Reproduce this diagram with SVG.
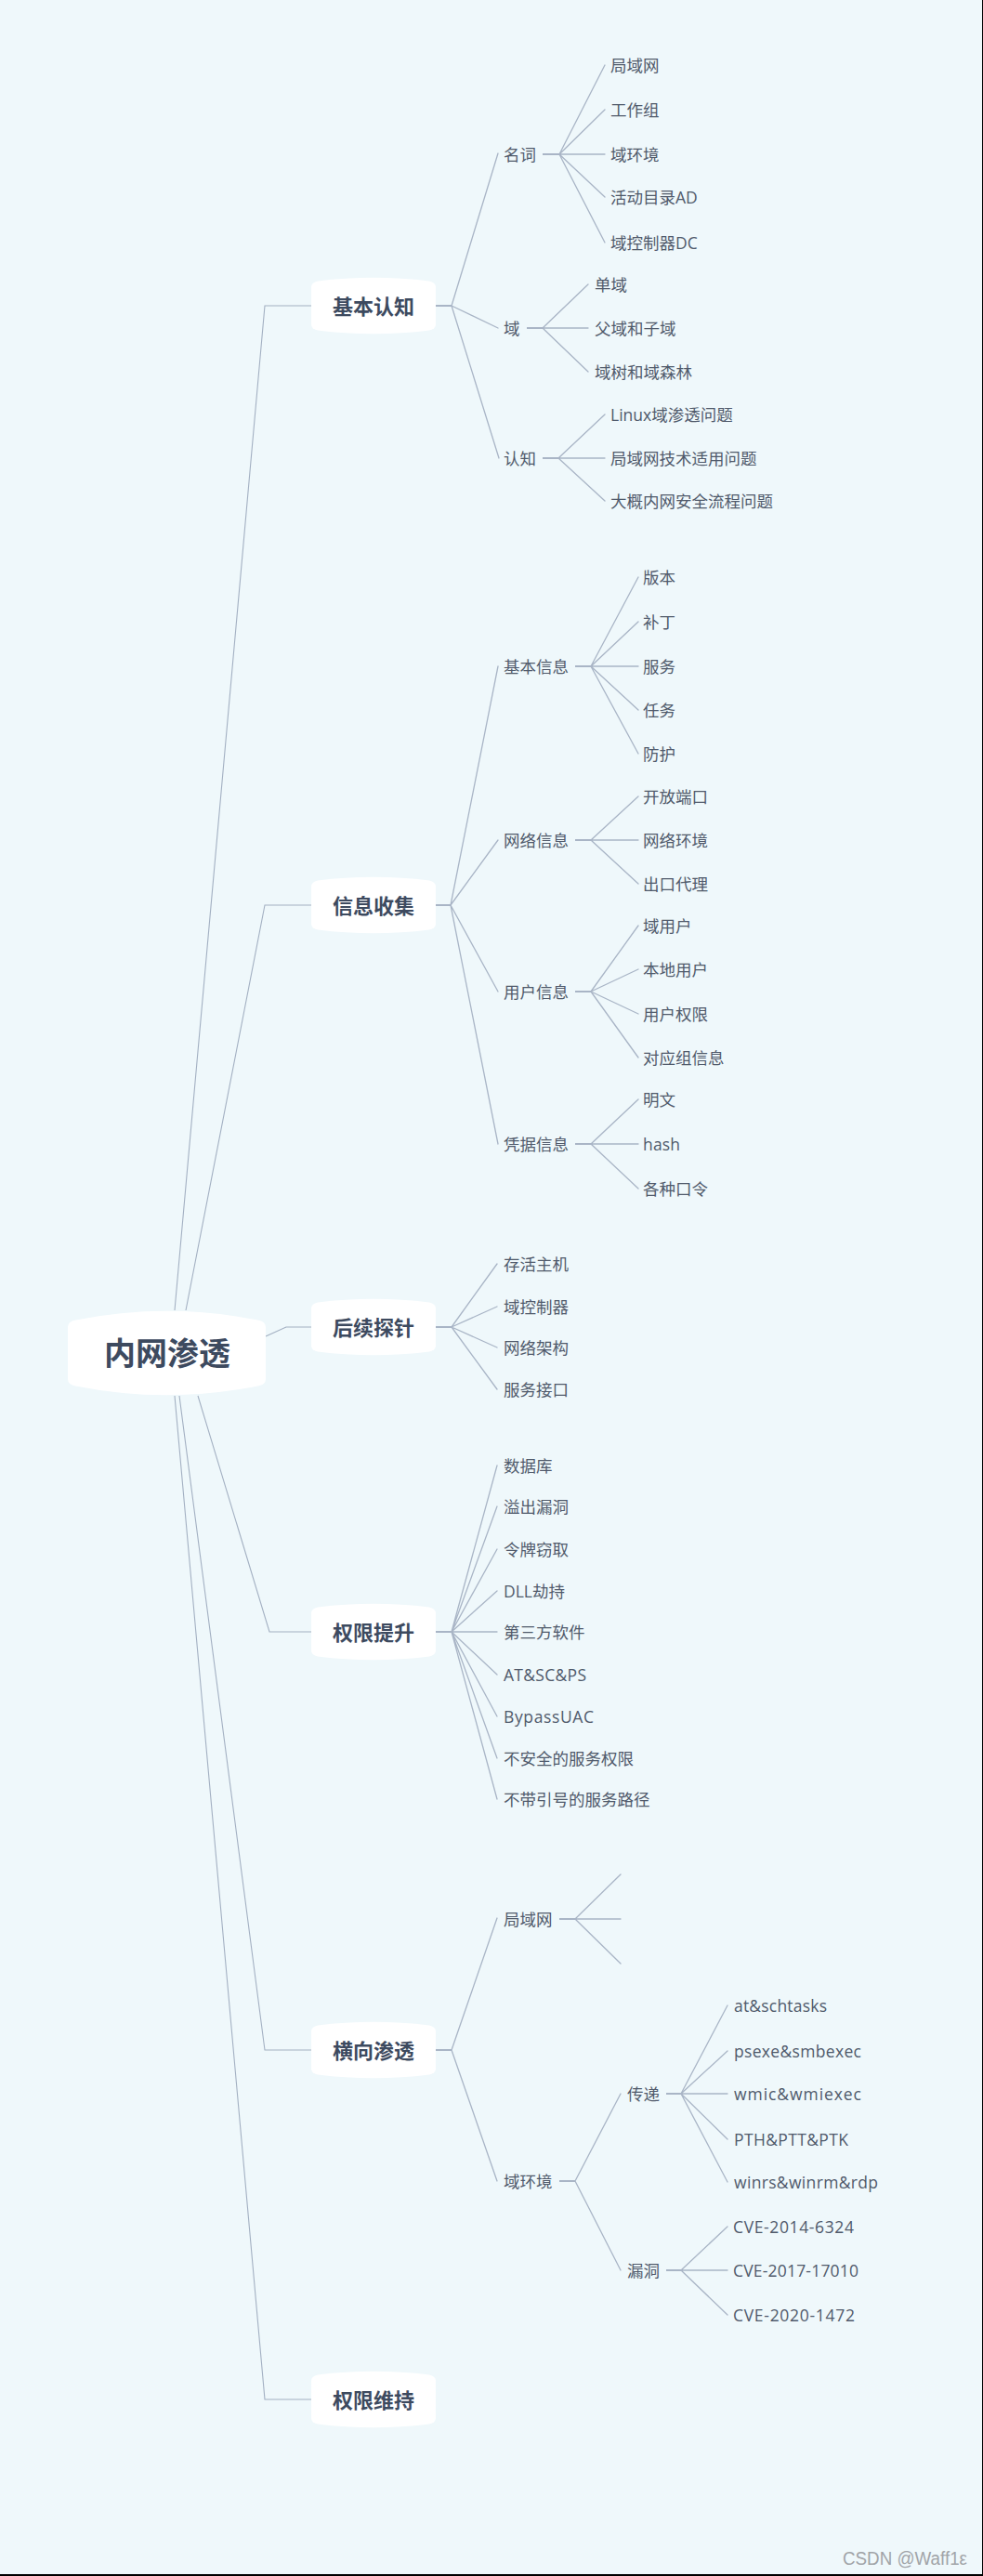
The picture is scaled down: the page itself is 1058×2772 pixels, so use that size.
<svg xmlns="http://www.w3.org/2000/svg" xmlns:xlink="http://www.w3.org/1999/xlink" width="1058" height="2772" viewBox="0 0 1058 2772">
<style>
text{font-family:"Open Sans","Noto Sans CJK SC",sans-serif;dominant-baseline:central}
.bg{fill:#eff8fb}
.ln{fill:none;stroke:#a9b5c6;stroke-width:1.3;stroke-linecap:round}
.stub{fill:none;stroke:#a9b5c6;stroke-width:2}
.rl{fill:none;stroke:#a3b0c2;stroke-width:1.1}
.node{fill:#ffffff}
.t-root{font-size:34px;font-weight:bold;fill:#3d4a5f;text-anchor:middle}
.t-main{font-size:22px;font-weight:bold;fill:#3d4a5f;text-anchor:middle}
.t-sub{font-size:17.5px;fill:#505a6b}
.wm{font-family:"Liberation Sans",sans-serif;font-size:20px;fill:#a1a4a8;dominant-baseline:auto}
</style>
<defs>
<path id="topicShape" d="M-67 -20 Q-67 -25 -60 -26.5 Q0 -34 60 -26.5 Q67 -25 67 -20 L67 20 Q67 25 60 26.5 Q0 34 -60 26.5 Q-67 25 -67 20 Z"/>
<path id="rootShape" d="M-106.5 -28 Q-106.5 -34 -98 -35.5 Q0 -55 98 -35.5 Q106.5 -34 106.5 -28 L106.5 28 Q106.5 34 98 35.5 Q0 55 -98 35.5 Q-106.5 34 -106.5 28 Z"/>
</defs>
<rect class="bg" x="0" y="0" width="1058" height="2772"/>

<g id="connectors">
  <path class="rl" d="M188 1410 L285 329 L335 329"/>
  <path class="rl" d="M200 1410 L285 974 L335 974"/>
  <path class="rl" d="M286 1438 L308 1428 L335 1428"/>
  <path class="rl" d="M213 1502 L290 1756 L335 1756"/>
  <path class="rl" d="M193 1502 L285 2206 L335 2206"/>
  <path class="rl" d="M188 1502 L285 2582 L335 2582"/>

  <path class="stub" d="M469 329 H486"/>
  <path class="ln" d="M486 329 L536 165 M486 329 L536 353 M486 329 L537 493"/>
  <path class="stub" d="M584 166 H602"/>
  <path class="ln" d="M602 166 L651 70 M602 166 L651 118 M602 166 L651 166 M602 166 L651 212 M602 166 L651 261"/>
  <path class="stub" d="M567 353 H584"/>
  <path class="ln" d="M584 353 L633 306 M584 353 L633 353 M584 353 L633 400"/>
  <path class="stub" d="M584 493 H601"/>
  <path class="ln" d="M601 493 L651 446 M601 493 L651 493 M601 493 L651 539"/>

  <path class="stub" d="M469 974 H485"/>
  <path class="ln" d="M485 974 L536 717 M485 974 L536 904 M485 974 L536 1067 M485 974 L536 1231"/>
  <path class="stub" d="M619 717 H636"/>
  <path class="ln" d="M636 717 L687 621 M636 717 L687 669 M636 717 L687 717 M636 717 L687 764 M636 717 L687 811"/>
  <path class="stub" d="M619 904 H636"/>
  <path class="ln" d="M636 904 L687 857 M636 904 L687 904 M636 904 L687 951"/>
  <path class="stub" d="M619 1067 H636"/>
  <path class="ln" d="M636 1067 L687 996 M636 1067 L687 1043 M636 1067 L687 1091 M636 1067 L687 1138"/>
  <path class="stub" d="M619 1231 H636"/>
  <path class="ln" d="M636 1231 L687 1183 M636 1231 L687 1231 M636 1231 L687 1279"/>

  <path class="stub" d="M469 1428 H486"/>
  <path class="ln" d="M486 1428 L535 1360 M486 1428 L535 1406 M486 1428 L535 1450 M486 1428 L535 1495"/>

  <path class="stub" d="M469 1756 H486"/>
  <path class="ln" d="M486 1756 L535 1577 M486 1756 L535 1621 M486 1756 L535 1667 M486 1756 L535 1712 M486 1756 L535 1756 M486 1756 L535 1802 M486 1756 L535 1847 M486 1756 L535 1892 M486 1756 L535 1936"/>

  <path class="stub" d="M469 2206 H486"/>
  <path class="ln" d="M486 2206 L535 2064 M486 2206 L535 2347"/>
  <path class="stub" d="M602 2065 H619"/>
  <path class="ln" d="M619 2065 L668 2017 M619 2065 L668 2065 M619 2065 L668 2113"/>
  <path class="stub" d="M602 2347 H619"/>
  <path class="ln" d="M619 2347 L668 2253 M619 2347 L668 2443"/>
  <path class="stub" d="M717 2253 H733"/>
  <path class="ln" d="M733 2253 L783 2158 M733 2253 L783 2207 M733 2253 L783 2253 M733 2253 L783 2302 M733 2253 L783 2348"/>
  <path class="stub" d="M717 2443 H733"/>
  <path class="ln" d="M733 2443 L783 2396 M733 2443 L783 2443 M733 2443 L783 2491"/>
</g>

<g id="root">
  <use xlink:href="#rootShape" href="#rootShape" class="node" transform="translate(179.5 1456)"/>
  <text class="t-root" x="180" y="1456">内网渗透</text>
</g>

<g id="topic-jbrz">
  <use xlink:href="#topicShape" href="#topicShape" class="node" transform="translate(402 329)"/>
  <text class="t-main" x="402" y="329">基本认知</text>
</g>
<g id="topic-xxsj">
  <use xlink:href="#topicShape" href="#topicShape" class="node" transform="translate(402 974)"/>
  <text class="t-main" x="402" y="974">信息收集</text>
</g>
<g id="topic-hxtz">
  <use xlink:href="#topicShape" href="#topicShape" class="node" transform="translate(402 1428)"/>
  <text class="t-main" x="402" y="1428">后续探针</text>
</g>
<g id="topic-qxts">
  <use xlink:href="#topicShape" href="#topicShape" class="node" transform="translate(402 1756)"/>
  <text class="t-main" x="402" y="1756">权限提升</text>
</g>
<g id="topic-hxst">
  <use xlink:href="#topicShape" href="#topicShape" class="node" transform="translate(402 2206)"/>
  <text class="t-main" x="402" y="2206">横向渗透</text>
</g>
<g id="topic-qxwc">
  <use xlink:href="#topicShape" href="#topicShape" class="node" transform="translate(402 2582)"/>
  <text class="t-main" x="402" y="2582">权限维持</text>
</g>

<g id="n-mingci"><text class="t-sub" x="542" y="166">名词</text></g>
<g id="n-mc-1"><text class="t-sub" x="657" y="70">局域网</text></g>
<g id="n-mc-2"><text class="t-sub" x="657" y="118">工作组</text></g>
<g id="n-mc-3"><text class="t-sub" x="657" y="166">域环境</text></g>
<g id="n-mc-4"><text class="t-sub" x="657" y="212">活动目录AD</text></g>
<g id="n-mc-5"><text class="t-sub" x="657" y="261">域控制器DC</text></g>
<g id="n-yu"><text class="t-sub" x="542" y="353">域</text></g>
<g id="n-yu-1"><text class="t-sub" x="640" y="306">单域</text></g>
<g id="n-yu-2"><text class="t-sub" x="640" y="353">父域和子域</text></g>
<g id="n-yu-3"><text class="t-sub" x="640" y="400">域树和域森林</text></g>
<g id="n-renzhi"><text class="t-sub" x="542" y="493">认知</text></g>
<g id="n-rz-1"><text class="t-sub" x="657" y="446">Linux域渗透问题</text></g>
<g id="n-rz-2"><text class="t-sub" x="657" y="493">局域网技术适用问题</text></g>
<g id="n-rz-3"><text class="t-sub" x="657" y="539">大概内网安全流程问题</text></g>

<g id="n-jbxx"><text class="t-sub" x="542" y="717">基本信息</text></g>
<g id="n-jb-1"><text class="t-sub" x="692" y="621">版本</text></g>
<g id="n-jb-2"><text class="t-sub" x="692" y="669">补丁</text></g>
<g id="n-jb-3"><text class="t-sub" x="692" y="717">服务</text></g>
<g id="n-jb-4"><text class="t-sub" x="692" y="764">任务</text></g>
<g id="n-jb-5"><text class="t-sub" x="692" y="811">防护</text></g>
<g id="n-wlxx"><text class="t-sub" x="542" y="904">网络信息</text></g>
<g id="n-wl-1"><text class="t-sub" x="692" y="857">开放端口</text></g>
<g id="n-wl-2"><text class="t-sub" x="692" y="904">网络环境</text></g>
<g id="n-wl-3"><text class="t-sub" x="692" y="951">出口代理</text></g>
<g id="n-yhxx"><text class="t-sub" x="542" y="1067">用户信息</text></g>
<g id="n-yh-1"><text class="t-sub" x="692" y="996">域用户</text></g>
<g id="n-yh-2"><text class="t-sub" x="692" y="1043">本地用户</text></g>
<g id="n-yh-3"><text class="t-sub" x="692" y="1091">用户权限</text></g>
<g id="n-yh-4"><text class="t-sub" x="692" y="1138">对应组信息</text></g>
<g id="n-pjxx"><text class="t-sub" x="542" y="1231">凭据信息</text></g>
<g id="n-pj-1"><text class="t-sub" x="692" y="1183">明文</text></g>
<g id="n-pj-2"><text class="t-sub" x="692" y="1231" textLength="40" lengthAdjust="spacing">hash</text></g>
<g id="n-pj-3"><text class="t-sub" x="692" y="1279">各种口令</text></g>

<g id="n-hx-1"><text class="t-sub" x="542" y="1360">存活主机</text></g>
<g id="n-hx-2"><text class="t-sub" x="542" y="1406">域控制器</text></g>
<g id="n-hx-3"><text class="t-sub" x="542" y="1450">网络架构</text></g>
<g id="n-hx-4"><text class="t-sub" x="542" y="1495">服务接口</text></g>

<g id="n-ts-1"><text class="t-sub" x="542" y="1577">数据库</text></g>
<g id="n-ts-2"><text class="t-sub" x="542" y="1621">溢出漏洞</text></g>
<g id="n-ts-3"><text class="t-sub" x="542" y="1667">令牌窃取</text></g>
<g id="n-ts-4"><text class="t-sub" x="542" y="1712">DLL劫持</text></g>
<g id="n-ts-5"><text class="t-sub" x="542" y="1756">第三方软件</text></g>
<g id="n-ts-6"><text class="t-sub" x="542" y="1802" textLength="89" lengthAdjust="spacing">AT&amp;SC&amp;PS</text></g>
<g id="n-ts-7"><text class="t-sub" x="542" y="1847" textLength="97" lengthAdjust="spacing">BypassUAC</text></g>
<g id="n-ts-8"><text class="t-sub" x="542" y="1892">不安全的服务权限</text></g>
<g id="n-ts-9"><text class="t-sub" x="542" y="1936">不带引号的服务路径</text></g>

<g id="n-jyw"><text class="t-sub" x="542" y="2065">局域网</text></g>
<g id="n-yhj"><text class="t-sub" x="542" y="2347">域环境</text></g>
<g id="n-cd"><text class="t-sub" x="675" y="2253">传递</text></g>
<g id="n-cd-1"><text class="t-sub" x="790" y="2158" textLength="100" lengthAdjust="spacing">at&amp;schtasks</text></g>
<g id="n-cd-2"><text class="t-sub" x="790" y="2207" textLength="137" lengthAdjust="spacing">psexe&amp;smbexec</text></g>
<g id="n-cd-3"><text class="t-sub" x="790" y="2253" textLength="137" lengthAdjust="spacing">wmic&amp;wmiexec</text></g>
<g id="n-cd-4"><text class="t-sub" x="790" y="2302" textLength="123" lengthAdjust="spacing">PTH&amp;PTT&amp;PTK</text></g>
<g id="n-cd-5"><text class="t-sub" x="790" y="2348" textLength="155" lengthAdjust="spacing">winrs&amp;winrm&amp;rdp</text></g>
<g id="n-ld"><text class="t-sub" x="675" y="2443">漏洞</text></g>
<g id="n-ld-1"><text class="t-sub" x="789" y="2396" textLength="130" lengthAdjust="spacing">CVE-2014-6324</text></g>
<g id="n-ld-2"><text class="t-sub" x="789" y="2443" textLength="135" lengthAdjust="spacing">CVE-2017-17010</text></g>
<g id="n-ld-3"><text class="t-sub" x="789" y="2491" textLength="131" lengthAdjust="spacing">CVE-2020-1472</text></g>

<text class="wm" x="907" y="2760" textLength="134" lengthAdjust="spacingAndGlyphs">CSDN @Waff1ε</text>
<line x1="1057.5" y1="0" x2="1057.5" y2="2772" stroke="#000" stroke-width="1"/>
<line x1="0" y1="2771" x2="1058" y2="2771" stroke="#000" stroke-width="2"/>
</svg>
